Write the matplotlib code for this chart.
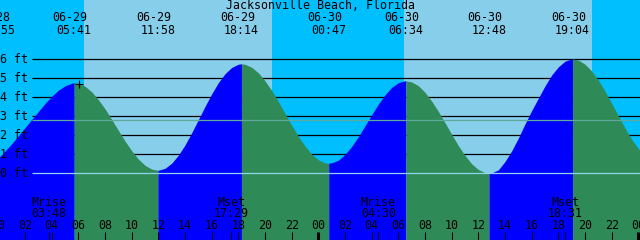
import matplotlib
matplotlib.use("Agg")
import matplotlib.pyplot as plt
from matplotlib.transforms import blended_transform_factory

# --- data ---
title = "Jacksonville Beach, Florida"

# high / low tides (label text, height in ft)
tide_labels = ["06-28 23:55", "06-29 05:41", "06-29 11:58", "06-29 18:14",
               "06-30 00:47", "06-30 06:34", "06-30 12:48", "06-30 19:04"]
tide_heights = [0.76, 4.77, 0.16, 5.76, 0.53, 4.87, 0.00, 6.02]

# water level every half hour, from 06-29 00:00 to 07-01 01:00 (ft)
level_step_h = 0.5
levels_half_hourly = [
    0.80, 1.17, 1.55, 1.97, 2.40, 2.83, 3.25, 3.67, 4.05, 4.37,   # 00:00-04:30
    4.60, 4.74, 4.74, 4.58, 4.29, 3.88, 3.39, 2.84, 2.26, 1.70,   # 05:00-09:30
    1.19, 0.75, 0.42, 0.22, 0.16, 0.26, 0.53, 0.95, 1.49, 2.13,   # 10:00-14:30
    2.82, 3.52, 4.18, 4.77, 5.24, 5.57, 5.74, 5.74, 5.58, 5.29,   # 15:00-19:30
    4.87, 4.36, 3.78, 3.15, 2.53, 1.95, 1.43, 1.01, 0.71, 0.55,   # 20:00-00:30
    0.55, 0.69, 0.99, 1.41, 1.92, 2.50, 3.08, 3.64, 4.13, 4.52,   # 01:00-05:30
    4.77, 4.87, 4.81, 4.61, 4.26, 3.80, 3.26, 2.66, 2.05, 1.46,   # 06:00-10:30
    0.94, 0.50, 0.20, 0.03, 0.02, 0.18, 0.62, 1.18, 1.85, 2.60,   # 11:00-15:30
    3.30, 3.95, 4.60, 5.17, 5.60, 5.90, 6.02, 5.96, 5.74, 5.38,   # 16:00-20:30
    4.90, 4.32, 3.68, 3.03, 2.38, 1.79, 1.30, 0.92, 0.68,         # 21:00-01:00
]

sun_events = ["06-29 06:26", "06-29 20:30", "06-30 06:26", "06-30 20:31"]  # rise, set, rise, set
moon_names = ["Mrise", "Mset", "Mrise", "Mset"]
moon_labels = ["06-29 03:48", "06-29 17:29", "06-30 04:30", "06-30 18:31"]

now_label = "06-29 06:03"
now_height = 4.70
mean_level = 2.79
ft_ticks = [0, 1, 2, 3, 4, 5, 6]

# --- colours ---
NIGHT = "#00BFFF"
DAY = "#87CEEB"
FLOOD = "#0000FF"
EBB = "#2E8B57"
DATUM = "#8FD3EC"
MSL = "#5FA89A"

W, H = 640, 240
PX_PER_H = 640 / 48.0
X0 = 0.125                    # hour at left edge
Y0_PX, PX_PER_FT = 173.3, 19.0


def to_hours(s):
    d, t = s.split()
    day = int(d.split("-")[1]) - 29
    hh, mm = t.split(":")
    return day * 24 + int(hh) + int(mm) / 60.0


def px_h(px):
    return X0 + px / PX_PER_H


def yfrac(ypx):
    return 1 - ypx / H


tide_t = [to_hours(s) for s in tide_labels]
sun_t = [to_hours(s) for s in sun_events]
moon_t = [to_hours(s) for s in moon_labels]

# merge the half-hourly readings with the extremes
level_t = [i * level_step_h for i in range(len(levels_half_hourly))]
pts = sorted(list(zip(level_t, levels_half_hourly)) + list(zip(tide_t, tide_heights)))
times = [p[0] for p in pts]
levels = [p[1] for p in pts]

fig = plt.figure(figsize=(W / 100, H / 100), dpi=100)
ax = fig.add_axes([0, 0, 1, 1])
ax.set_axis_off()
xlo, xhi = px_h(0), px_h(W)
ylo = (Y0_PX - H) / PX_PER_FT
yhi = Y0_PX / PX_PER_FT
ax.set_xlim(xlo, xhi)
ax.set_ylim(ylo, yhi)

bx = blended_transform_factory(ax.transData, ax.transAxes)
by = blended_transform_factory(ax.transAxes, ax.transData)
font = dict(family="DejaVu Sans Mono", size=8.4, color="black")

# day / night background
edges = [xlo - 5] + sun_t + [xhi + 5]
for i in range(len(edges) - 1):
    ax.axvspan(edges[i], edges[i + 1], color=NIGHT if i % 2 == 0 else DAY, lw=0, zorder=0)

# foot lines behind the water
ax.hlines([v for v in ft_ticks if v > 0], px_h(32), xhi, color="black", lw=0.9, zorder=1)

# water: flood (rising) blue, ebb (falling) green
bounds = tide_t + [xhi + 5]
for i in range(len(tide_t)):
    a, b = bounds[i], bounds[i + 1]
    seg_t = [t for t in times if a <= t <= b]
    seg_v = [v for t, v in zip(times, levels) if a <= t <= b]
    rising = seg_v[-1] > seg_v[0]
    ax.fill_between(seg_t, seg_v, ylo - 1, color=FLOOD if rising else EBB, lw=0, zorder=2)

# datum and mean level lines
ax.hlines(0, px_h(32), xhi, color=DATUM, lw=0.9, zorder=3)
ax.hlines(mean_level, px_h(32), xhi, color=MSL, lw=0.9, zorder=3)

for v in ft_ticks:
    ax.text(0.0, v, f"{v} ft", transform=by, ha="left", va="center", zorder=5, **font)

# current time mark
ax.plot([to_hours(now_label)], [now_height], marker="+", ms=6, mew=0.8, color="black", zorder=5)

# header
ax.text(0.5, yfrac(5.5), title, transform=ax.transAxes, ha="center", va="center", **font)
for s, t in zip(tide_labels, tide_t):
    d, hm = s.split()
    ax.text(t - 0.3, yfrac(17.5), d, transform=bx, ha="center", va="center", **font)
    ax.text(t, yfrac(30), hm, transform=bx, ha="center", va="center", **font)

# hour axis
for hr in range(0, 49, 2):
    lw = 2.2 if hr % 24 == 0 else 0.75
    ax.vlines(hr, yfrac(240), yfrac(232), transform=bx, color="black", lw=lw, zorder=5)
    ax.text(hr, yfrac(225.5), f"{hr % 24:02d}", transform=bx, ha="center", va="center", **font)

# moon rise / set
for name, s, t in zip(moon_names, moon_labels, moon_t):
    ax.vlines(t, yfrac(240), yfrac(232), transform=bx, color="black", lw=0.75, zorder=5)
    ax.text(t, yfrac(202), name, transform=bx, ha="center", va="center", **font)
    ax.text(t, yfrac(213.5), s.split()[1], transform=bx, ha="center", va="center", **font)

fig.savefig("out.png", dpi=100)
